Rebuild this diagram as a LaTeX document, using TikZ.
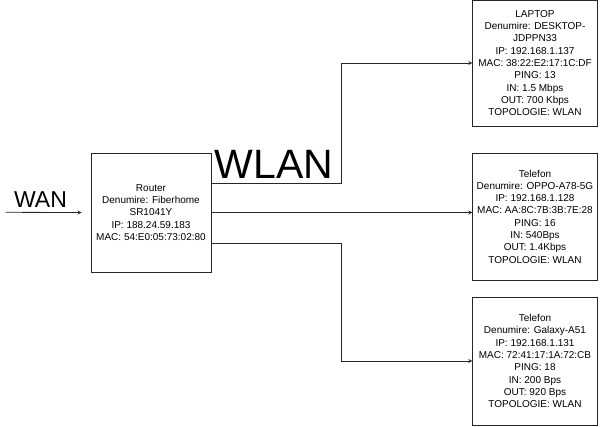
\documentclass[tikz,border=0pt]{standalone}
\usepackage{fontspec}
\setmainfont{Liberation Sans}
\usetikzlibrary{arrows, positioning, calc}

\begin{document}
\begin{tikzpicture}[
				x=1pt, y=-1pt,
				% Define styles
				devicebox/.style={rectangle, draw=black!85, line width=0.8pt, align=center, fill=white, inner sep=0pt,
					font=\fontsize{10}{12.3}\selectfont},
				linkarrow/.style={->, line width=0.8pt, >=stealth, draw=black!85},
				biglabel/.style={inner sep=0pt, text=black}
				]
				\useasboundingbox (0,0) rectangle (601,426);
				
				% Router
				\node[devicebox, minimum width=120pt, minimum height=119pt] (router) at (151,212.5) {Router\\Denumire: Fiberhome\\SR1041Y\\IP: 188.24.59.183\\MAC: 54:E0:05:73:02:80};
				
				% Devices
				\node[devicebox, minimum width=124.5pt, minimum height=126pt] (laptop) at (535,63) {LAPTOP\\Denumire: DESKTOP-\\JDPPN33\\IP: 192.168.1.137\\MAC: 38:22:E2:17:1C:DF\\PING: 13\\IN: 1.5 Mbps\\OUT: 700 Kbps\\TOPOLOGIE: WLAN};
				\node[devicebox, minimum width=124.5pt, minimum height=127pt] (phonea) at (535,216.5) {Telefon\\Denumire: OPPO-A78-5G\\IP: 192.168.1.128\\MAC: AA:8C:7B:3B:7E:28\\PING: 16\\IN: 540Bps\\OUT: 1.4Kbps\\TOPOLOGIE: WLAN};
				\node[devicebox, minimum width=124.5pt, minimum height=128pt] (phoneb) at (535,361) {Telefon\\Denumire: Galaxy-A51\\IP: 192.168.1.131\\MAC: 72:41:17:1A:72:CB\\PING: 18\\IN: 200 Bps\\OUT: 920 Bps\\TOPOLOGIE: WLAN};
				
				% Labels
				\node[biglabel, font=\fontsize{23}{27}\selectfont] (wan) at (40.5,199.5) {WAN};
				\node[biglabel, font=\fontsize{41}{48}\selectfont] (wlan) at (274,164) {WLAN};
				
				% Helper points
				\coordinate (wanin) at (5.7,212.3);
				\coordinate (bus) at (341.7,0);
				
				% Connections
				\draw[linkarrow] (wanin) -- ([xshift=-9pt]router.west);
				\draw[linkarrow] ([yshift=29.5pt]router.east) -| (bus |- laptop.west) -- (laptop.west);
				\draw[linkarrow] (router.east) -- (router.east -| phonea.west);
				\draw[linkarrow] ([yshift=-30.5pt]router.east) -| (bus |- phoneb.west) -- (phoneb.west);
				
			\end{tikzpicture}
\end{document}
